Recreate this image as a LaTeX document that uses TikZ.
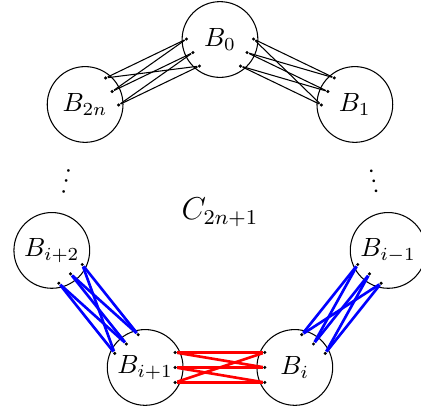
\documentclass[tikz,border=0pt]{standalone}
\usepackage{amsmath}
\usetikzlibrary{calc}

\begin{document}
\begin{tikzpicture}[
        block/.style={circle, draw, minimum size=1.01cm, inner sep=0pt},
        pin/.style={circle, fill, inner sep=0pt, minimum size=1.3pt},
        black wire/.style={line width=0.4pt},
        blue wire/.style={line width=1pt, blue},
        red wire/.style={line width=1pt, red}]
    \useasboundingbox (-2.933,-2.68) rectangle (2.68,2.827);

    % Blocks around the cycle
    \foreach \name/\lab/\ang in {B0/B_0/90, B1/B_1/38.57, Bim/B_{i-1}/-12.86, Bi/B_i/-64.29,
                                 Bip/B_{i+1}/-115.71, Bipp/B_{i+2}/-167.14, B2n/B_{2n}/141.43}
        \node[block] (\name) at (\ang:2.3) {$\lab$};

    \node (C) at (0,0) {\large $C_{2n+1}$};
    \node[rotate=-12.86] (dotsl) at ($(167.14:2.08)+(0,0.05)$) {$\vdots$};
    \node[rotate=12.86] (dotsr) at ($(12.86:2.08)+(0,0.05)$) {$\vdots$};

    % Wires between neighbours
    \foreach \a/\b/\st/\s in {B2n/B0/black wire/1, B0/B1/black wire/1, Bi/Bim/blue wire/1,
                              Bipp/Bip/blue wire/1, Bip/Bi/red wire/2} {
        \foreach \k/\off in {1/-0.2, 2/0, 3/0.2} {
            \node[pin] (\a-\b-\k) at ($(\a)!0.4cm!(\b)!\off cm!90:(\b)$) {};
            \node[pin] (\b-\a-\k) at ($(\b)!0.4cm!(\a)!\off cm!-90:(\a)$) {};
        }
        \foreach \k in {1,2,3} {
            \pgfmathtruncatemacro{\j}{mod(\k-1+\s,3)+1}
            \draw[\st] (\a-\b-\k) -- (\b-\a-\k);
            \draw[\st] (\a-\b-\k) -- (\b-\a-\j);
        }
    }
\end{tikzpicture}
\end{document}
